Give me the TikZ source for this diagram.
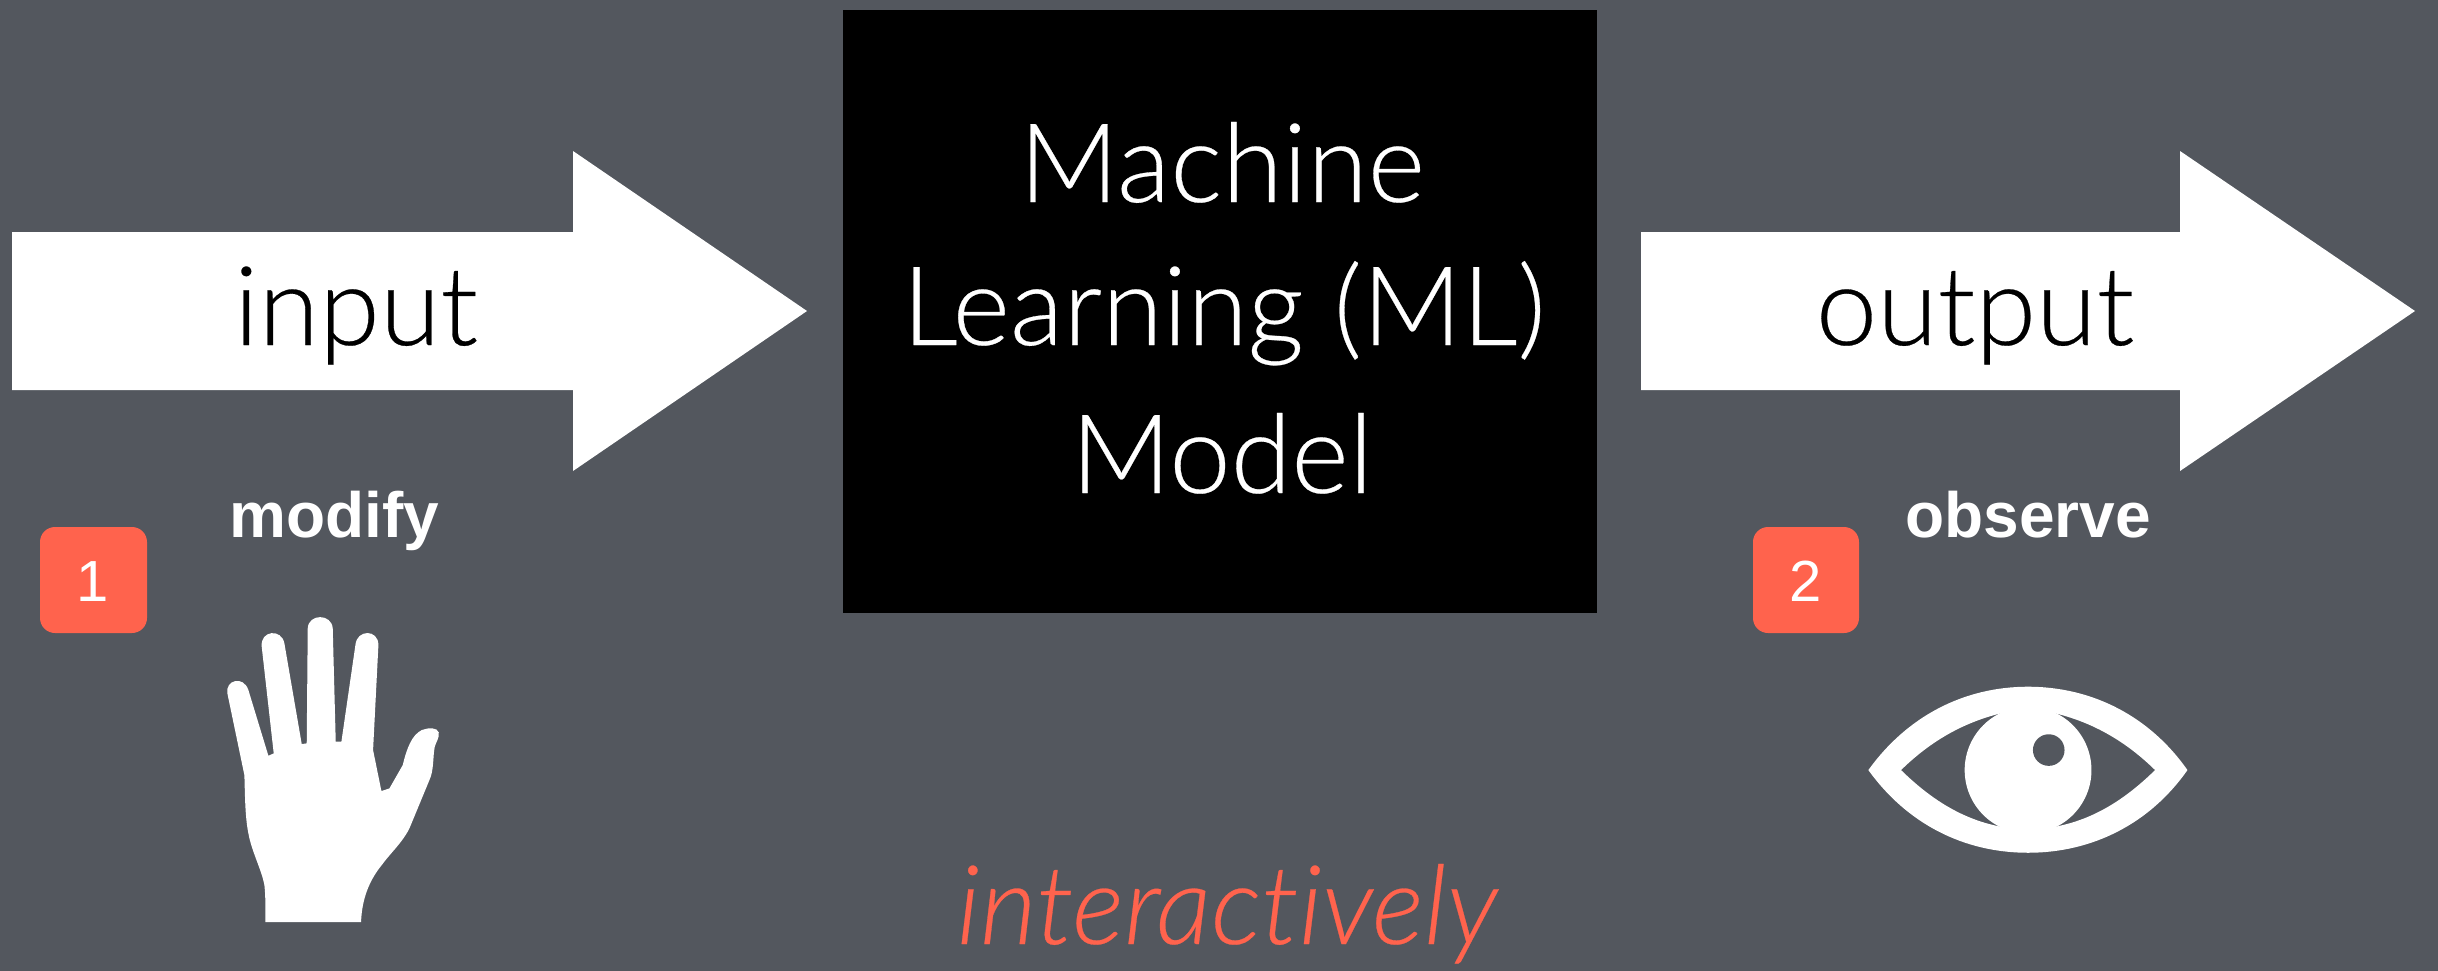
\documentclass[tikz,border=0pt]{standalone}
\usepackage{fontspec}
\setmainfont{Lato Light}[ItalicFont={Lato Light Italic},Ligatures={NoCommon},FakeBold=0.25]
\newfontfamily\boldsans{Liberation Sans}[Scale=1]
\definecolor{bg}{HTML}{53575E}
\definecolor{coral}{HTML}{FF634D}
\tikzset{
  txt/.style={inner sep=0pt,outer sep=0pt,anchor=base,align=center},
  big/.style={txt,font=\fontsize{55}{73}\selectfont},
  act/.style={txt,text=white,font=\boldsans\bfseries\fontsize{32}{36}\selectfont},
  badge/.style={fill=coral,rounded corners=7.5pt},
  num/.style={txt,text=white,font=\boldsans\fontsize{29}{34}\selectfont},
  bigarrow/.style={fill=white},
}
\begin{document}
\begin{tikzpicture}[x=0.5pt,y=-0.5pt]
\useasboundingbox (0,0) rectangle (2438,970);
\fill[bg] (-8,-8) rectangle (2446,978);
% arrows
\fill[bigarrow] (12,232) -- (573,232) -- (573,151) -- (807,311) -- (573,471) -- (573,390) -- (12,390) -- cycle;
\fill[bigarrow] (1641,232) -- (2180,232) -- (2180,151) -- (2415,311) -- (2180,471) -- (2180,390) -- (1641,390) -- cycle;
\node[big,text=black] (input) at (356,345) {input};
\node[big,text=black] (output) at (1975,345) {output};
% model box
\fill[black] (843,10) rectangle (1597,613);
\node[big,text=white] (m1) at (1222,202) {Machine};
\node[big,text=white] (m2) at (1224,345) {Learning (ML)};
\node[big,text=white] (m3) at (1222,493) {Model};
% badges
\fill[badge] (40,527) rectangle (147,633);
\node[num] (n1) at (93,601) {1};
\fill[badge] (1753,527) rectangle (1859,633);
\node[num] (n2) at (1806,601) {2};
\node[act] (modify) at (334,537) {modify};
\node[act] (observe) at (2028,537) {observe};
\node[txt,text=coral,font=\fontsize{55}{60}\selectfont\itshape] (inter) at (1227,944) {interactively};
% hand
\begin{scope}[shift={(0,480)},x=0.1667pt,y=-0.1667pt]
\fill[white] (796,1326) -- (1083,1326)
 .. controls (1085,1270) and (1100,1210) .. (1145,1155)
 .. controls (1170,1120) and (1205,1090) .. (1228,1045)
 -- (1288,900)
 .. controls (1302,870) and (1298,830) .. (1304,800)
 .. controls (1308,785) and (1318,775) .. (1316,757)
 .. controls (1312,742) and (1285,742) .. (1265,750)
 .. controls (1235,765) and (1220,805) .. (1208,855)
 -- (1168,925) -- (1144,933) -- (1119,810) -- (1135,495)
 .. controls (1135,447) and (1070,447) .. (1066,495)
 -- (1024,785) -- (1007,785) -- (998,445)
 .. controls (995,400) and (925,400) .. (923,445)
 -- (920,790) -- (905,792) -- (853,490)
 .. controls (845,445) and (780,450) .. (785,500)
 -- (821,820) -- (805,827) -- (745,630)
 .. controls (730,585) and (675,600) .. (682,640)
 -- (733,885)
 .. controls (735,950) and (735,1010) .. (745,1060)
 .. controls (755,1115) and (785,1170) .. (793,1215)
 .. controls (797,1250) and (796,1290) .. (796,1326) -- cycle;
\end{scope}
% eye
\begin{scope}[shift={(1720,480)},x=0.1667pt,y=-0.1667pt]
\fill[white,even odd rule] (445,870)
 .. controls (560,710) and (730,620) .. (924,620)
 .. controls (1118,620) and (1290,710) .. (1402,870)
 .. controls (1290,1030) and (1118,1118) .. (924,1118)
 .. controls (730,1118) and (560,1030) .. (445,870) -- cycle
 (543,870)
 .. controls (640,775) and (760,705) .. (924,685)
 .. controls (1088,705) and (1208,775) .. (1305,870)
 .. controls (1208,965) and (1088,1045) .. (924,1048)
 .. controls (760,1045) and (640,965) .. (543,870) -- cycle;
\fill[white] (924,870) circle[radius=31.7pt];
\fill[bg] (986,810) circle[radius=7.9pt];
\end{scope}
\end{tikzpicture}
\end{document}
